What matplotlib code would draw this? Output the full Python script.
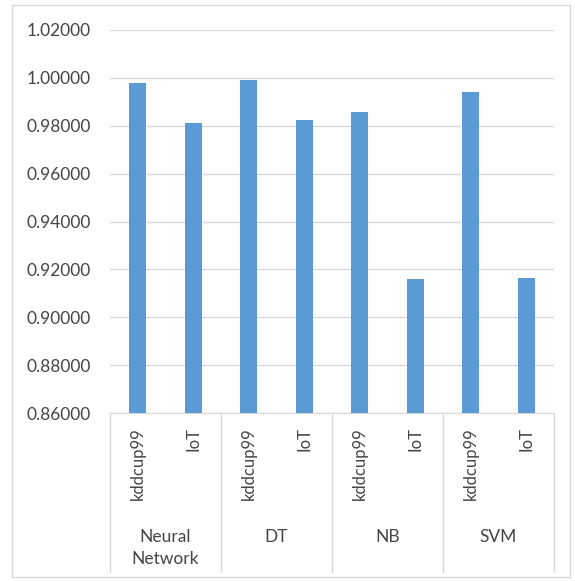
import matplotlib.pyplot as plt
from matplotlib.patches import Rectangle
from matplotlib.ticker import FormatStrFormatter

plt.rcParams['font.family'] = ['Lato', 'DejaVu Sans']

groups = ['Neural\nNetwork', 'DT', 'NB', 'SVM']
datasets = ['kddcup99', 'IoT']
scores = [0.9979, 0.9813, 0.9993, 0.9826, 0.9858, 0.9160, 0.9939, 0.9164]

bar_color = '#5B9BD5'
text_color = '#454545'
line_color = '#D9D9D9'

fig = plt.figure(figsize=(5.75, 5.81), dpi=100)
ax = fig.add_axes([110 / 575, 1 - 413 / 581, 444 / 575, 383 / 581])

x = list(range(len(scores)))
ax.bar(x, scores, width=0.3, color=bar_color, zorder=3)

ax.set_xlim(-0.5, len(scores) - 0.5)
ax.set_ylim(0.86, 1.02)
ax.set_yticks([0.86 + 0.02 * i for i in range(9)])
ax.yaxis.set_major_formatter(FormatStrFormatter('%.5f'))
ax.tick_params(axis='y', length=0, pad=14, labelsize=12.5, labelcolor=text_color)
ax.set_xticks([])
ax.grid(axis='y', color=line_color, linewidth=1, zorder=0)
for side in ['left', 'right', 'top']:
    ax.spines[side].set_visible(False)
ax.spines['bottom'].set_color(line_color)

# multi-level category axis
tr = ax.get_xaxis_transform()
table_bottom = -159 / 383
for i, v in enumerate(x):
    ax.text(v, -0.036, datasets[i % len(datasets)], rotation=90, ha='center', va='top',
            fontsize=12, color=text_color, transform=tr)
n_sub = len(datasets)
for g, name in enumerate(groups):
    xc = g * n_sub + (n_sub - 1) / 2
    ax.text(xc, -0.302, name, ha='center', va='top', fontsize=12.5, color=text_color,
            linespacing=1.45, transform=tr)
for g in range(len(groups) + 1):
    xb = g * n_sub - 0.5
    ax.plot([xb, xb], [0, table_bottom], color=line_color, linewidth=1,
            transform=tr, clip_on=False)

# chart area border
fig.patches.append(Rectangle((12 / 575, 1 - 577 / 581), 558 / 575, 572 / 581,
                             transform=fig.transFigure, fill=False,
                             edgecolor=line_color, linewidth=1))

fig.savefig('out.png', dpi=100)
